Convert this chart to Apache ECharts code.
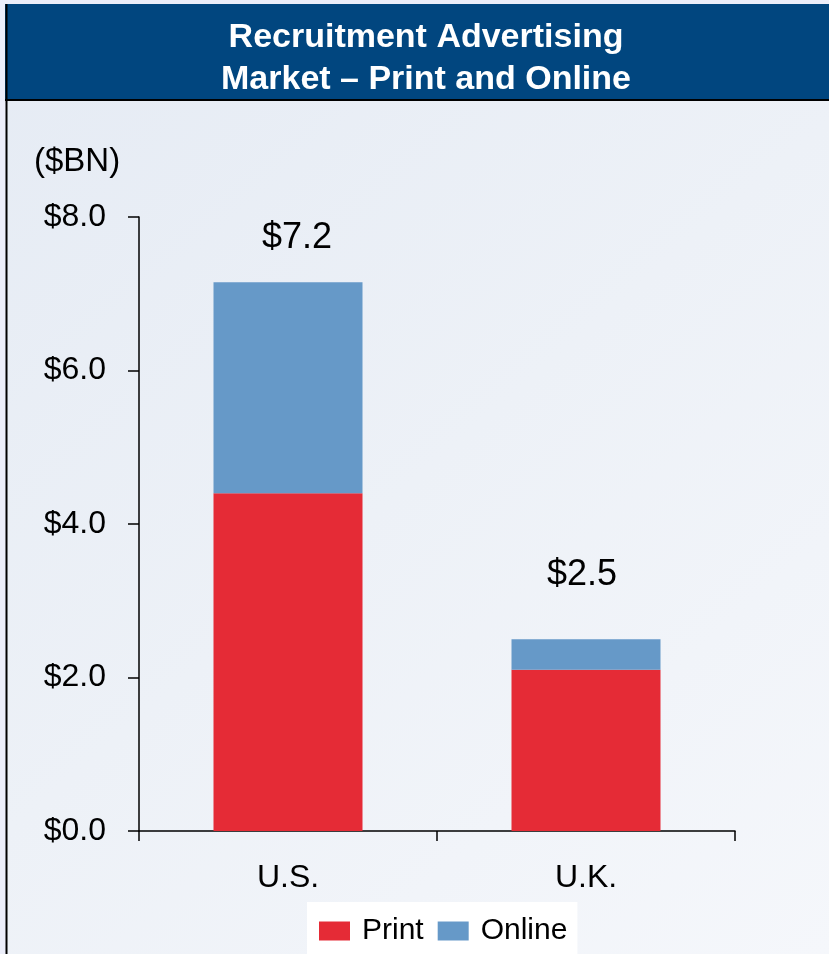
<!DOCTYPE html>
<html>
<head>
<meta charset="utf-8">
<script src="https://cdn.jsdelivr.net/npm/echarts@6/dist/echarts.min.js"></script>
<style>
  html, body { margin: 0; padding: 0; background: #eceefa; }
  #chart { width: 829px; height: 954px; }
</style>
</head>
<body>
<div id="chart"></div>
<script>
var categories = ['U.S.', 'U.K.'];
var printValues = [4.4, 2.1];
var onlineValues = [2.75, 0.4];
var totalLabels = ['$7.2', '$2.5'];
var yTicks = [0, 2, 4, 6, 8];

// placement of the total labels above each bar (px)
var labelGap = [26, 46];
var labelShift = [9, -4];

var font = '"Liberation Sans", Arial, sans-serif';

var myChart = echarts.init(document.getElementById('chart'));

var onlineData = onlineValues.map(function (v, i) {
  return {
    value: v,
    label: { distance: labelGap[i], offset: [labelShift[i], 0] }
  };
});

var option = {
  backgroundColor: '#eceefa',
  animation: false,
  graphic: [
    // panel background
    {
      type: 'rect', z: -10,
      shape: { x: 6, y: 4, width: 823, height: 950 },
      style: {
        fill: new echarts.graphic.LinearGradient(0, 0, 1, 1, [
          { offset: 0, color: '#e5ebf4' },
          { offset: 0.5, color: '#edf1f7' },
          { offset: 1, color: '#f5f7fb' }
        ])
      }
    },
    // title band
    {
      type: 'rect', z: -5,
      shape: { x: 5, y: 4, width: 824, height: 96 },
      style: { fill: '#01467f' }
    },
    {
      type: 'line', z: -4,
      shape: { x1: 5, y1: 100, x2: 829, y2: 100 },
      style: { stroke: '#000', lineWidth: 2 }
    },
    {
      type: 'line', z: -4,
      shape: { x1: 6.5, y1: 4, x2: 6.5, y2: 954 },
      style: { stroke: '#000', lineWidth: 2 }
    },
    {
      type: 'text', left: 34, top: 145,
      style: { text: '($BN)', font: '33px ' + font, fill: '#000' }
    }
  ],
  title: {
    text: 'Recruitment Advertising\nMarket \u2013 Print and Online',
    left: 421,
    top: 12,
    textAlign: 'center',
    textStyle: {
      color: '#fff',
      fontFamily: font,
      fontWeight: 'bold',
      fontSize: 34,
      lineHeight: 42
    }
  },
  legend: {
    data: ['Print', 'Online'],
    left: 307,
    top: 902,
    backgroundColor: '#fff',
    padding: [14, 10, 20, 12],
    itemWidth: 31,
    itemHeight: 19,
    itemGap: 14,
    icon: 'rect',
    textStyle: { fontFamily: font, fontSize: 30, color: '#000', padding: [0, 0, 0, 7] }
  },
  grid: {
    left: 139,
    right: 94,
    top: 217,
    bottom: 123,
    containLabel: false
  },
  xAxis: {
    type: 'category',
    data: categories,
    axisLine: { lineStyle: { color: '#000', width: 1.5 } },
    axisTick: { show: true, length: 10, lineStyle: { color: '#000', width: 1.5 } },
    axisLabel: { fontFamily: font, fontSize: 32, color: '#000', margin: 31 }
  },
  yAxis: {
    type: 'value',
    min: yTicks[0],
    max: yTicks[yTicks.length - 1],
    interval: 2,
    axisLine: { show: true, lineStyle: { color: '#000', width: 1.5 } },
    axisTick: { show: true, length: 11, lineStyle: { color: '#000', width: 1.5 } },
    splitLine: { show: false },
    axisLabel: {
      fontFamily: font, fontSize: 32, color: '#000', margin: 33,
      formatter: function (v) { return '$' + v.toFixed(1); }
    }
  },
  series: [
    {
      name: 'Print',
      type: 'bar',
      stack: 'total',
      barWidth: '50%',
      itemStyle: { color: '#e52b36' },
      data: printValues
    },
    {
      name: 'Online',
      type: 'bar',
      stack: 'total',
      barWidth: '50%',
      itemStyle: { color: '#6699c8' },
      label: {
        show: true,
        position: 'top',
        fontFamily: font,
        fontSize: 36,
        color: '#000',
        formatter: function (p) { return totalLabels[p.dataIndex]; }
      },
      data: onlineData
    }
  ]
};

myChart.setOption(option);
window.addEventListener('resize', function () {
  myChart.resize();
});
</script>
</body>
</html>
